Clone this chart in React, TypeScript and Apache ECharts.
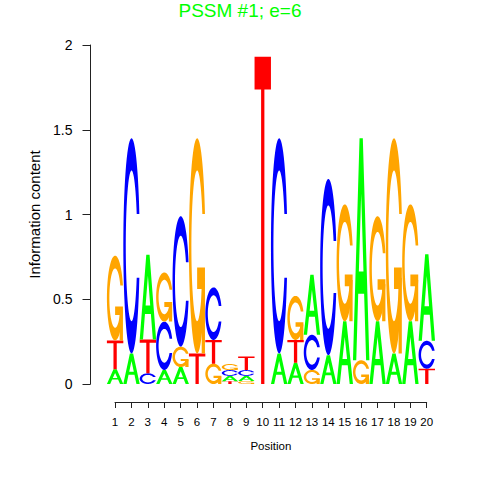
import React, { useEffect, useRef } from 'react';
import * as echarts from 'echarts';

const FONT = '"Liberation Sans", Arial, Helvetica, sans-serif';

const positions = [1, 2, 3, 4, 5, 6, 7, 8, 9, 10, 11, 12, 13, 14, 15, 16, 17, 18, 19, 20];
const heightA = [0.087, 0.18, 0.5, 0.083, 0.1, 0, 0, 0.032, 0.03, 0, 0.18, 0.125, 0.355, 0.17, 0.37, 1.31, 0.37, 0.18, 0.37, 0.51];
const heightC = [0, 1.27, 0.063, 0.285, 0.77, 0, 0.31, 0.034, 0.034, 0, 1.27, 0, 0.207, 1.04, 0, 0, 0, 0, 0, 0.165];
const heightG = [0.5, 0, 0, 0.29, 0.12, 1.27, 0.12, 0.036, 0.018, 0, 0, 0.26, 0.083, 0, 0.69, 0.14, 0.62, 1.27, 0.69, 0];
const heightT = [0.17, 0, 0.2, 0, 0, 0.18, 0.14, 0.016, 0.08, 1.93, 0, 0.135, 0, 0, 0, 0, 0, 0, 0, 0.09];
const letters = ['A', 'C', 'G', 'T'];
const letterColors: Record<string, string> = { A: '#00FF00', C: '#0000FF', G: '#FFA500', T: '#FF0000' };

// Glyph outlines in a unit box (u right, v up)
function cOutline(): number[][] {
  const pts: number[][] = [];
  const n = 60;
  const a0 = Math.PI / 2 + 0.3;
  const a1 = 2.5 * Math.PI - 0.3;
  for (let i = 0; i <= n; i++) {
    const t = a0 + ((a1 - a0) * i) / n;
    pts.push([0.5 + 0.5 * Math.sin(t), 0.5 + 0.5 * Math.cos(t)]);
  }
  const yCut = 0.5 + 0.5 * Math.cos(a0);
  const b0 = Math.acos((yCut - 0.5) / 0.35);
  const b1 = 3 * Math.PI - b0;
  for (let i = n; i >= 0; i--) {
    const t = b0 + ((b1 - b0) * i) / n;
    pts.push([0.5 + 0.35 * Math.sin(t), 0.5 + 0.35 * Math.cos(t)]);
  }
  return pts;
}
const C_RING = cOutline();
const R1 = 0.5 + 0.5 * Math.sin(Math.PI / 2 + 0.3);

// each glyph: list of parts; each part: list of rings (first outer, rest holes with opposite winding)
const GLYPHS: Record<string, number[][][][]> = {
  A: [[
    [[0, 0], [0.4, 1], [0.6, 1], [1, 0], [0.8, 0], [0.68, 0.3], [0.32, 0.3], [0.2, 0]],
    [[0.36, 0.4], [0.64, 0.4], [0.5, 0.75]],
  ]],
  C: [[C_RING]],
  G: [
    [C_RING],
    [[[R1, 0.4], [0.5, 0.4], [0.5, 0.3], [R1 - 0.2, 0.3], [R1 - 0.2, 0], [R1, 0]]],
  ],
  T: [[
    [[0, 1], [1, 1], [1, 0.9], [0.6, 0.9], [0.6, 0], [0.4, 0], [0.4, 0.9], [0, 0.9]],
  ]],
};

const logoData = positions.map((p, i) => [p, heightA[i], heightC[i], heightG[i], heightT[i]]);

function renderItem(_params: any, api: any) {
  const pos = api.value(0);
  const items = letters
    .map((l, k) => ({ l, h: Number(api.value(k + 1)) }))
    .filter((d) => d.h > 0)
    .sort((a, b) => a.h - b.h);
  let base = 0;
  const children: any[] = [];
  for (const it of items) {
    const p0 = api.coord([pos - 0.5, base]);
    const p1 = api.coord([pos + 0.5, base + it.h]);
    const x0 = p0[0];
    const x1 = p1[0];
    const yb = p0[1];
    const yt = p1[1];
    for (const part of GLYPHS[it.l]) {
      let d = '';
      for (const ring of part) {
        ring.forEach((pt, j) => {
          const x = x0 + pt[0] * (x1 - x0);
          const y = yb - pt[1] * (yb - yt);
          d += (j === 0 ? 'M' : 'L') + x.toFixed(2) + ' ' + y.toFixed(2) + ' ';
        });
        d += 'Z ';
      }
      children.push({
        type: 'path',
        shape: { pathData: d },
        style: { fill: letterColors[it.l], stroke: 'none' },
      });
    }
    base += it.h;
  }
  return { type: 'group', children };
}

const axisColor = '#222';

export default function App() {
  const ref = useRef<HTMLDivElement>(null);
  useEffect(() => {
    if (!ref.current) return;
    const chart = echarts.init(ref.current, null, { renderer: 'svg' });
    chart.setOption({
      animation: false,
      backgroundColor: '#ffffff',
      title: {
        text: 'PSSM #1; e=6',
        left: 'center',
        top: -4,
        textStyle: { color: '#00FF00', fontSize: 19, fontWeight: 'normal', fontFamily: FONT },
      },
      grid: [
        { left: 90.5, top: 45, width: 352.7, height: 339 },
        { left: 115, top: 392, width: 311.7, height: 10 },
      ],
      xAxis: [
        { gridIndex: 0, type: 'value', min: -0.5, max: 21, show: false },
        {
          gridIndex: 1,
          type: 'value',
          min: 1,
          max: 20,
          interval: 1,
          position: 'bottom',
          axisLine: { show: true, onZero: false, lineStyle: { color: axisColor, width: 1 } },
          axisTick: { show: true, length: 6, lineStyle: { color: axisColor, width: 1 } },
          axisLabel: { margin: 14, fontSize: 11.5, color: '#000', fontFamily: FONT },
          splitLine: { show: false },
          name: 'Position',
          nameLocation: 'middle',
          nameGap: 38,
          nameTextStyle: { fontSize: 11.5, color: '#000', fontFamily: FONT },
        },
      ],
      yAxis: [
        {
          gridIndex: 0,
          type: 'value',
          min: 0,
          max: 2,
          interval: 0.5,
          axisLine: { show: true, onZero: false, lineStyle: { color: axisColor, width: 1 } },
          axisTick: { show: true, length: 8, lineStyle: { color: axisColor, width: 1 } },
          axisLabel: { margin: 18, fontSize: 14, color: '#000', fontFamily: FONT },
          splitLine: { show: false },
          name: 'Information content',
          nameLocation: 'middle',
          nameGap: 45,
          nameTextStyle: { fontSize: 15, color: '#000', fontFamily: FONT },
        },
        { gridIndex: 1, type: 'value', min: 0, max: 1, show: false },
      ],
      series: [
        {
          type: 'custom',
          xAxisIndex: 0,
          yAxisIndex: 0,
          renderItem,
          data: logoData,
          clip: false,
          silent: true,
        },
      ],
    });
    return () => chart.dispose();
  }, []);
  return (
    <div
      ref={ref}
      style={{ position: 'fixed', left: 0, top: 0, width: 480, height: 480, background: '#fff' }}
    />
  );
}
